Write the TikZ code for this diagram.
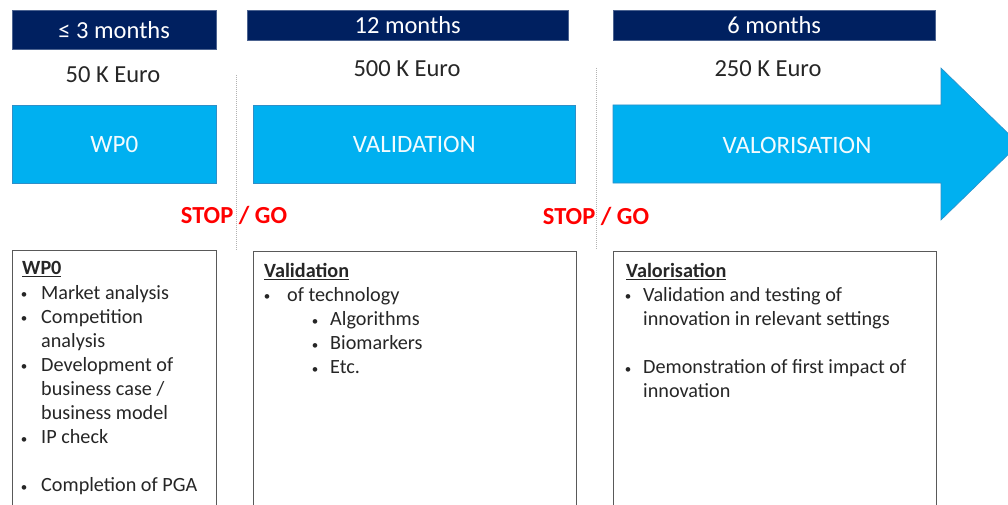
\documentclass[tikz,border=0pt]{standalone}
\usepackage{fontspec}
\setmainfont{Carlito}
\usepackage{xcolor}
\usetikzlibrary{positioning}

\definecolor{navy}{HTML}{002060}
\definecolor{skyblue}{HTML}{00B0F0}
\definecolor{skyedge}{HTML}{2E8FC8}
\definecolor{stopred}{HTML}{FF0000}
\definecolor{boxgray}{HTML}{595959}

% small bullet centred #1 from the left, text #2 after it
\newcommand{\bul}[2]{\hspace*{#1}\makebox[0pt]{\raisebox{0.6pt}{\fontsize{13}{13}\selectfont\textbullet}}\hspace*{#2}}

\tikzset{
  durbox/.style={draw=navy!70, fill=navy, text=white, inner sep=0pt,
    font=\fontsize{24.5}{28}\selectfont, anchor=north west},
  costlabel/.style={text=black!85, inner sep=0pt, font=\fontsize{24.5}{28}\selectfont},
  phasebox/.style={draw=skyedge, line width=0.6pt, fill=skyblue, inner sep=0pt,
    anchor=north west, minimum height=78pt},
  phaselabel/.style={text=white!95!skyblue, inner sep=0pt, font=\fontsize{25}{28}\selectfont},
  stopgo/.style={text=stopred, inner sep=0pt, font=\bfseries\fontsize{24.5}{28}\selectfont},
  descbox/.style={draw=boxgray, line width=1.3pt, fill=white, anchor=north west,
    minimum height=270pt},
  desctext/.style={align=left, inner sep=0pt, anchor=north west, text=black!85,
    font=\fontsize{20.2}{24.1}\selectfont},
  gate/.style={draw=gray!60, dash pattern=on 1pt off 1pt, line width=0.9pt}
}

\begin{document}
\begin{tikzpicture}[x=1pt, y=-1pt]
    \useasboundingbox (0,0) rectangle (1008,505);
    \clip (0,0) rectangle (1008,505);

    % durations
    \node[durbox, minimum width=204pt, minimum height=39pt] (dur0) at (12,10) {≤ 3 months};
    \node[durbox, minimum width=321pt, minimum height=30pt] (dur1) at (247,10) {12 months};
    \node[durbox, minimum width=322pt, minimum height=30pt] (dur2) at (613,10) {6 months};

    % budgets
    \node[costlabel] (cost0) at (113,75) {50 K Euro};
    \node[costlabel] (cost1) at (407,69) {500 K Euro};
    \node[costlabel] (cost2) at (768,69) {250 K Euro};

    % stop/go gates
    \coordinate (g1top) at (236,75);
    \coordinate (g1bot) at (236,250);
    \coordinate (g2top) at (596,68);
    \coordinate (g2bot) at (596,250);
    \draw[gate] (g1top) -- (g1bot);
    \draw[gate] (g2top) -- (g2bot);

    % phases
    \node[phasebox, minimum width=204pt] (phase0) at (12,105) {};
    \node[phasebox, minimum width=322pt] (phase1) at (253,105) {};
    \draw[draw=skyedge, line width=0.6pt, fill=skyblue]
      (613,105) -- (941,105) -- (941,68) -- (1019,144) -- (941,220) -- (941,183) -- (613,183) -- cycle;
    \node[phaselabel] (wp0) at (phase0) {WP0};
    \node[phaselabel] (valid) at (phase1) {VALIDATION};
    \node[phaselabel] (valor) at (797,145) {VALORISATION};

    \node[stopgo] (sg1) at (234,215) {STOP / GO};
    \node[stopgo] (sg2) at (596,216) {STOP / GO};

    % descriptions
    \node[descbox, minimum width=204pt] (desc0) at (12,250) {};
    \node[descbox, minimum width=323pt] (desc1) at (253,251) {};
    \node[descbox, minimum width=323pt] (desc2) at (613,251) {};

    \node[desctext] (list0) at (22,261.5) {%
      \underline{\textbf{WP0}}\\
      \bul{2pt}{17pt}Market analysis\\
      \bul{2pt}{17pt}Competition\\
      \hspace*{19pt}analysis\\
      \bul{2pt}{17pt}Development of\\
      \hspace*{19pt}business case /\\
      \hspace*{19pt}business model\\
      \bul{2pt}{17pt}IP check\\
      \mbox{}\\
      \bul{2pt}{17pt}Completion of PGA};
    \node[desctext] (list1) at (264,263) {%
      \underline{\textbf{Validation}}\\
      \bul{3pt}{20pt}of technology\\
      \bul{51pt}{15pt}Algorithms\\
      \bul{51pt}{15pt}Biomarkers\\
      \bul{51pt}{15pt}Etc.};
    \node[desctext] (list2) at (626,263) {%
      \underline{\textbf{Valorisation}}\\
      \bul{2pt}{15pt}Validation and testing of\\
      \hspace*{17pt}innovation in relevant settings\\
      \mbox{}\\
      \bul{2pt}{15pt}Demonstration of first impact of\\
      \hspace*{17pt}innovation};
\end{tikzpicture}
\end{document}
